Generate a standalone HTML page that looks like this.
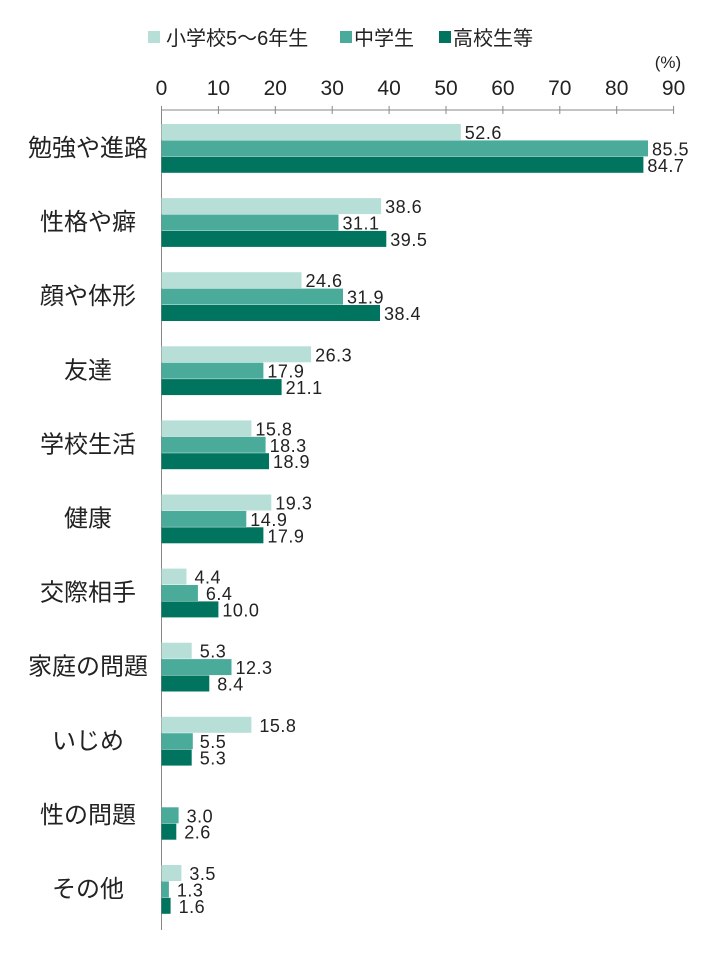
<!DOCTYPE html><html><head><meta charset="utf-8"><style>
body{margin:0;background:#fff}
text{font-family:"Liberation Sans","Noto Sans CJK JP",sans-serif;fill:#222}
.v{font-size:18px;letter-spacing:0.5px}.c{font-size:24px;text-anchor:middle}
</style></head><body>
<svg width="720" height="960" xmlns="http://www.w3.org/2000/svg">
<rect x="148" y="31" width="12" height="12" fill="#b7dfd7"/><text x="166" y="45" font-size="20">小学校5～6年生</text>
<rect x="340" y="31" width="12" height="12" fill="#4aab9b"/><text x="354" y="45" font-size="20">中学生</text>
<rect x="439" y="31" width="12" height="12" fill="#00745f"/><text x="453" y="45" font-size="20">高校生等</text>
<text x="668" y="68" font-size="17" text-anchor="middle">(%)</text>
<g stroke="#888" stroke-width="1">
<line x1="161.5" y1="110" x2="673.6" y2="110"/><line x1="161.5" y1="106" x2="161.5" y2="930"/>
<line x1="218.4" y1="106" x2="218.4" y2="114"/><line x1="275.3" y1="106" x2="275.3" y2="114"/><line x1="332.2" y1="106" x2="332.2" y2="114"/><line x1="389.1" y1="106" x2="389.1" y2="114"/><line x1="446" y1="106" x2="446" y2="114"/><line x1="502.9" y1="106" x2="502.9" y2="114"/><line x1="559.8" y1="106" x2="559.8" y2="114"/><line x1="616.7" y1="106" x2="616.7" y2="114"/><line x1="673.6" y1="106" x2="673.6" y2="114"/>
</g>
<g font-size="21" text-anchor="middle">
<text x="161.5" y="95">0</text><text x="218.4" y="95">10</text><text x="275.3" y="95">20</text><text x="332.2" y="95">30</text><text x="389.1" y="95">40</text><text x="446" y="95">50</text><text x="502.9" y="95">60</text><text x="559.8" y="95">70</text><text x="616.7" y="95">80</text><text x="673.6" y="95">90</text>
</g>

<g transform="translate(0,124)"><text class="c" x="88" y="32">勉強や進路</text>
<rect x="161.5" y="0" width="299.3" height="16" fill="#b7dfd7"/><text class="v" x="464.8" y="15">52.6</text>
<rect x="161.5" y="16.4" width="486.5" height="16" fill="#4aab9b"/><text class="v" x="652" y="31.4">85.5</text>
<rect x="161.5" y="32.8" width="481.9" height="16" fill="#00745f"/><text class="v" x="647.4" y="47.8">84.7</text></g>

<g transform="translate(0,198.1)"><text class="c" x="88" y="32">性格や癖</text>
<rect x="161.5" y="0" width="219.6" height="16" fill="#b7dfd7"/><text class="v" x="385.1" y="15">38.6</text>
<rect x="161.5" y="16.4" width="177" height="16" fill="#4aab9b"/><text class="v" x="342.5" y="31.4">31.1</text>
<rect x="161.5" y="32.8" width="224.8" height="16" fill="#00745f"/><text class="v" x="390.3" y="47.8">39.5</text></g>

<g transform="translate(0,272.2)"><text class="c" x="88" y="32">顔や体形</text>
<rect x="161.5" y="0" width="140" height="16" fill="#b7dfd7"/><text class="v" x="305.5" y="15">24.6</text>
<rect x="161.5" y="16.4" width="181.5" height="16" fill="#4aab9b"/><text class="v" x="347" y="31.4">31.9</text>
<rect x="161.5" y="32.8" width="218.5" height="16" fill="#00745f"/><text class="v" x="384" y="47.8">38.4</text></g>

<g transform="translate(0,346.3)"><text class="c" x="88" y="32">友達</text>
<rect x="161.5" y="0" width="149.6" height="16" fill="#b7dfd7"/><text class="v" x="315.1" y="15">26.3</text>
<rect x="161.5" y="16.4" width="101.9" height="16" fill="#4aab9b"/><text class="v" x="267.4" y="31.4">17.9</text>
<rect x="161.5" y="32.8" width="120.1" height="16" fill="#00745f"/><text class="v" x="285.6" y="47.8">21.1</text></g>

<g transform="translate(0,420.4)"><text class="c" x="88" y="32">学校生活</text>
<rect x="161.5" y="0" width="89.9" height="16" fill="#b7dfd7"/><text class="v" x="255.4" y="15">15.8</text>
<rect x="161.5" y="16.4" width="104.1" height="16" fill="#4aab9b"/><text class="v" x="269.6" y="31.4">18.3</text>
<rect x="161.5" y="32.8" width="107.5" height="16" fill="#00745f"/><text class="v" x="273" y="47.8">18.9</text></g>

<g transform="translate(0,494.5)"><text class="c" x="88" y="32">健康</text>
<rect x="161.5" y="0" width="109.8" height="16" fill="#b7dfd7"/><text class="v" x="275.3" y="15">19.3</text>
<rect x="161.5" y="16.4" width="84.8" height="16" fill="#4aab9b"/><text class="v" x="250.3" y="31.4">14.9</text>
<rect x="161.5" y="32.8" width="101.9" height="16" fill="#00745f"/><text class="v" x="267.4" y="47.8">17.9</text></g>

<g transform="translate(0,568.6)"><text class="c" x="88" y="32">交際相手</text>
<rect x="161.5" y="0" width="25" height="16" fill="#b7dfd7"/><text class="v" x="194.5" y="15">4.4</text>
<rect x="161.5" y="16.4" width="36.4" height="16" fill="#4aab9b"/><text class="v" x="205.9" y="31.4">6.4</text>
<rect x="161.5" y="32.8" width="56.9" height="16" fill="#00745f"/><text class="v" x="222.4" y="47.8">10.0</text></g>

<g transform="translate(0,642.7)"><text class="c" x="88" y="32">家庭の問題</text>
<rect x="161.5" y="0" width="30.2" height="16" fill="#b7dfd7"/><text class="v" x="199.7" y="15">5.3</text>
<rect x="161.5" y="16.4" width="70" height="16" fill="#4aab9b"/><text class="v" x="235.5" y="31.4">12.3</text>
<rect x="161.5" y="32.8" width="47.8" height="16" fill="#00745f"/><text class="v" x="217.3" y="47.8">8.4</text></g>

<g transform="translate(0,716.8)"><text class="c" x="88" y="32">いじめ</text>
<rect x="161.5" y="0" width="89.9" height="16" fill="#b7dfd7"/><text class="v" x="259.4" y="15">15.8</text>
<rect x="161.5" y="16.4" width="31.3" height="16" fill="#4aab9b"/><text class="v" x="199.8" y="31.4">5.5</text>
<rect x="161.5" y="32.8" width="30.2" height="16" fill="#00745f"/><text class="v" x="199.7" y="47.8">5.3</text></g>

<g transform="translate(0,790.9)"><text class="c" x="88" y="32">性の問題</text>
<rect x="161.5" y="16.4" width="17.1" height="16" fill="#4aab9b"/><text class="v" x="186.6" y="31.4">3.0</text>
<rect x="161.5" y="32.8" width="14.8" height="16" fill="#00745f"/><text class="v" x="184.3" y="47.8">2.6</text></g>

<g transform="translate(0,865)"><text class="c" x="88" y="32">その他</text>
<rect x="161.5" y="0" width="19.9" height="16" fill="#b7dfd7"/><text class="v" x="189.4" y="15">3.5</text>
<rect x="161.5" y="16.4" width="7.4" height="16" fill="#4aab9b"/><text class="v" x="176.9" y="31.4">1.3</text>
<rect x="161.5" y="32.8" width="9.1" height="16" fill="#00745f"/><text class="v" x="178.6" y="47.8">1.6</text></g>
</svg></body></html>
